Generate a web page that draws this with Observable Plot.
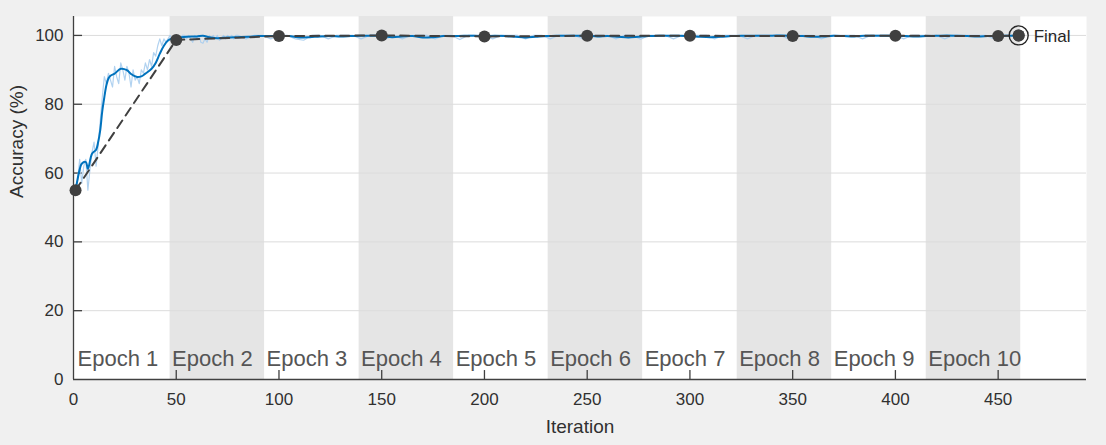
<!DOCTYPE html>
<html>
<head>
<meta charset="utf-8">
<script src="https://cdn.jsdelivr.net/npm/d3@7"></script>
<script src="https://cdn.jsdelivr.net/npm/@observablehq/plot@0.6"></script>
<style>
  html, body { margin: 0; padding: 0; background: #f0f0f0; }
  #chart svg { display: block; }
</style>
</head>
<body>
<div id="chart"></div>
<script>
// ---- data ----
const epochLabels = ["Epoch 1","Epoch 2","Epoch 3","Epoch 4","Epoch 5","Epoch 6","Epoch 7","Epoch 8","Epoch 9","Epoch 10"];
const epochStart = [1, 47, 93, 139, 185, 231, 277, 323, 369, 415];
const epochEnd   = [47, 93, 139, 185, 231, 277, 323, 369, 415, 461];

const xTicks = [0, 50, 100, 150, 200, 250, 300, 350, 400, 450];
const yTicks = [0, 20, 40, 60, 80, 100];

// raw training accuracy, iterations 1..80
const rawAccEarly = [
  55, 58, 64, 57, 62, 64, 55, 61, 66, 69,
  62, 68, 75, 82, 88, 86, 89, 87, 85, 91,
  88, 86, 92, 90, 87, 91, 89, 85, 90, 87,
  88, 86, 90, 89, 92, 90, 93, 91, 95, 94,
  97, 99, 97, 99, 98, 99, 100, 99, 100, 99,
  100, 99, 100, 100, 99, 100, 99, 98, 100, 99,
  100, 98, 97.7, 99, 98, 100, 99, 100, 99, 100,
  98.6, 99, 100, 99, 100, 99.4, 100, 99, 100, 100
];
// raw training accuracy, iterations 84, 88, ..., 460
const rawAccLate = [
  99, 100, 100, 99, 100, 100, 99, 98.6, 100, 100,
  99, 100, 100, 100, 99, 100, 100, 99, 100, 99,
  100, 100, 100, 99, 100, 100, 98.8, 100, 100, 100,
  99, 100, 100, 100, 99, 100, 100, 99, 100, 100,
  100, 99, 100, 100, 100, 99, 100, 100, 98.9, 100,
  100, 100, 99, 100, 100, 100, 100, 99, 100, 100,
  100, 99, 100, 100, 100, 100, 99, 100, 100, 100,
  99, 100, 100, 100, 100, 99, 100, 100, 100, 100,
  99, 100, 100, 100, 100, 99, 100, 100, 100, 100,
  100, 99, 100, 100, 100
];

// smoothed training accuracy
const smoothIter = [1, 3, 4, 6, 7, 9, 11, 12, 13, 14, 15, 16, 17, 18, 20, 23, 26, 28, 31, 33, 35, 38, 40, 42, 44, 46, 48,
  50, 55, 60, 63, 66, 70, 75, 80, 85, 90, 95, 100, 105, 110, 115, 120, 125, 130, 135, 140, 145, 150, 155, 160, 165, 170, 175,
  180, 185, 190, 195, 200, 205, 210, 215, 220, 225, 230, 235, 240, 245, 250, 255, 260, 265, 270, 275, 280, 285, 290, 295,
  300, 305, 310, 315, 320, 325, 330, 335, 340, 345, 350, 355, 360, 365, 370, 375, 380, 385, 390, 395, 400, 405, 410, 415,
  420, 425, 430, 435, 440, 445, 450, 455, 460];
const smoothAcc = [55, 61, 62.7, 63.2, 61.2, 65.6, 66.8, 69, 72.4, 78, 82, 85.5, 87.5, 88.3, 88.9, 90.3, 89.9, 88.8, 87.9, 88.1, 88.9, 90.3, 92, 94.7, 97, 98.5, 99.1,
  99.3, 99.6, 99.7, 99.9, 99.5, 99.2, 99.4, 99.5, 99.6, 99.8, 99.8, 99.8, 99.8, 99.4, 99.5, 99.7, 99.8, 99.7, 99.8, 99.9, 99.9, 99.9, 99.5, 99.7, 99.8, 99.4, 99.5,
  99.8, 99.8, 99.9, 99.9, 99.8, 99.9, 99.8, 99.6, 99.4, 99.6, 99.8, 99.9, 99.9, 99.9, 99.9, 99.7, 99.8, 99.6, 99.4, 99.6, 99.8, 99.9, 99.9, 99.9,
  99.8, 99.6, 99.5, 99.6, 99.8, 99.9, 99.9, 99.9, 99.9, 100, 99.9, 99.8, 99.6, 99.7, 99.9, 99.8, 99.7, 99.9, 99.9, 99.9, 99.9, 99.8, 99.7, 99.8,
  99.9, 100, 99.9, 99.8, 99.7, 99.8, 99.9, 99.9, 100];

// validation accuracy
const valIter = [1, 50, 100, 150, 200, 250, 300, 350, 400, 450, 460];
const valAcc  = [55, 98.7, 99.8, 100, 99.7, 99.9, 99.9, 99.8, 99.9, 99.8, 100];
const finalIter = [460];
const finalAcc = [100];

// ---- tables ----
const epochs = epochLabels.map((label, i) => ({label, start: epochStart[i], end: epochEnd[i], shaded: i % 2 === 1}));
const raw = rawAccEarly.map((v, i) => ({it: i + 1, acc: v}))
  .concat(rawAccLate.map((v, i) => ({it: 84 + 4 * i, acc: v})));
const smooth = smoothIter.map((it, i) => ({it, acc: smoothAcc[i]}));
const val = valIter.map((it, i) => ({it, acc: valAcc[i]}));
const fin = finalIter.map((it, i) => ({it, acc: finalAcc[i]}));

const font = "'Liberation Sans', Arial, Helvetica, sans-serif";
const tickLenX = 4.4;  // inward tick length in iteration units (~9px)
const tickLenY = 2.6;  // inward tick length in accuracy units (~9px)

const chart = Plot.plot({
  width: 1106,
  height: 445,
  marginLeft: 73,
  marginRight: 20,
  marginTop: 16,
  marginBottom: 66,
  style: {background: "transparent", fontFamily: font, fontSize: "17px", color: "#303030"},
  x: {type: "linear", domain: [0, 493], axis: null},
  y: {type: "linear", domain: [0, 105.5], axis: null},
  marks: [
    Plot.frame({fill: "white", stroke: "none"}),
    Plot.rectX(epochs.filter(d => d.shaded), {x1: "start", x2: "end", fill: "#e5e5e5"}),
    Plot.ruleY(yTicks.filter(d => d > 0), {stroke: "#dcdcdc", strokeWidth: 1}),
    Plot.text(epochs, {x: "start", text: "label", frameAnchor: "bottom", textAnchor: "start", lineAnchor: "bottom", dx: 2, dy: -14, fontSize: 22, fill: "#555"}),
    // axes lines
    Plot.ruleX([0], {stroke: "#404040", strokeWidth: 1.3}),
    Plot.ruleY([0], {stroke: "#404040", strokeWidth: 1.3}),
    // inward ticks
    Plot.ruleY(yTicks.filter(d => d > 0), {y: d => d, x1: 0, x2: tickLenX, stroke: "#404040", strokeWidth: 1.3}),
    Plot.ruleX(xTicks.filter(d => d > 0), {x: d => d, y1: 0, y2: tickLenY, stroke: "#404040", strokeWidth: 1.3}),
    Plot.axisY({ticks: yTicks, tickSize: 0, tickPadding: 10, fontSize: 17, label: null}),
    Plot.axisX({ticks: xTicks, tickSize: 0, tickPadding: 13, fontSize: 17, label: null}),
    // series
    Plot.line(raw, {x: "it", y: "acc", stroke: "#a8cdee", strokeWidth: 1.2, strokeOpacity: 0.9}),
    Plot.line(smooth, {x: "it", y: "acc", stroke: "#0072bd", strokeWidth: 2, curve: "catmull-rom"}),
    Plot.line(val, {x: "it", y: "acc", stroke: "#404040", strokeWidth: 2, strokeDasharray: "9,6"}),
    Plot.dot(val, {x: "it", y: "acc", r: 6, fill: "#404040", stroke: "none"}),
    Plot.dot(fin, {x: "it", y: "acc", r: 9.5, fill: "none", stroke: "#262626", strokeWidth: 1.4}),
    Plot.dot(fin, {x: "it", y: "acc", r: 6, fill: "#404040"}),
    Plot.text(fin, {x: "it", y: "acc", text: () => "Final", textAnchor: "start", dx: 15, dy: 1, fontSize: 17, fill: "#262626"}),
    // axis labels
    Plot.text(["Iteration"], {text: d => d, frameAnchor: "bottom", lineAnchor: "bottom", dy: 53, fontSize: 19, fill: "#303030"}),
    Plot.text(["Accuracy (%)"], {text: d => d, frameAnchor: "left", rotate: -90, dx: -57, fontSize: 19, fill: "#303030"})
  ]
});
document.getElementById("chart").appendChild(chart);
</script>
</body>
</html>
